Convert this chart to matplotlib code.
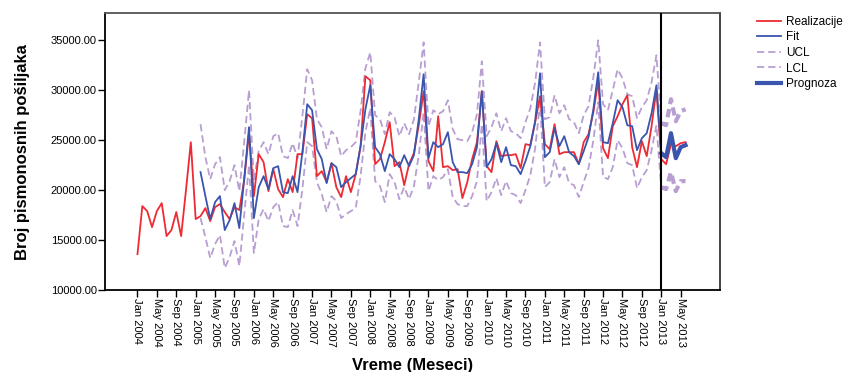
import matplotlib
matplotlib.use('Agg')
import matplotlib.pyplot as plt
import numpy as np
import pandas as pd

plt.rcParams['font.family'] = ['Liberation Sans', 'DejaVu Sans']

# month index 0 = Jan 2004
months = pd.date_range('2004-01-01', periods=114, freq='MS')

realizacija = [
    13600, 18400, 17900, 16300, 17900, 18700, 15400, 16000, 17800, 15400, 20000, 24800,
    17100, 17400, 18200, 16900, 18300, 18600, 17800, 17100, 18300, 18000, 21000, 25700,
    19400, 23600, 22800, 19900, 22100, 20100, 19300, 21100, 19800, 23600, 23600, 27600,
    27200, 21400, 21900, 20800, 22700, 20300, 19300, 21400, 19800, 21600, 24400, 31400,
    31000, 22600, 23100, 24800, 26800, 22400, 22800, 20500, 22600, 23700, 26500, 29900,
    22900, 21900, 27400, 22300, 22400, 22000, 22100, 19200, 20800, 23100, 24800, 29900,
    22400, 21800, 24900, 23400, 23500, 23500, 23600, 22200, 24600, 24500, 26800, 29400,
    24600, 24100, 26600, 23600, 23800, 23800, 23800, 22600, 24800, 25600, 27800, 30900,
    24200, 23200, 26400, 27400, 28600, 29500, 24300, 22300, 24900, 23400, 26400, 30100,
    23100, 22600, 24600, 24400, 24700, 24800,
]

# fit starts Feb 2005 (index 13)
fit_start = 13
fit = [
    21800, 19400, 17100, 18800, 19400, 16000, 17000, 18700, 16200, 21100, 26300,
    17200, 20300, 21400, 20100, 22200, 22400, 19800, 19700, 21400, 19800, 23800, 28600,
    28000, 24100, 23100, 20700, 22700, 22300, 20300, 20800, 21200, 21600, 24400, 28100,
    30500, 24300, 23600, 21900, 23600, 23100, 22300, 23500, 22400, 23500, 27100, 31600,
    23200, 24800, 24300, 24600, 25800, 22800, 21800, 21800, 21700, 22600, 24300, 29900,
    22300, 23100, 24700, 22800, 24300, 22500, 22400, 21600, 22900, 24400, 26900, 31700,
    23300, 23800, 26200, 24400, 25400, 23800, 23400, 22600, 23900, 25300, 28100, 31800,
    24800, 24700, 26700, 29000, 28300, 26500, 26400, 24000, 25200, 25700, 27700, 30500,
    23700,
]
ucl = [
    26600, 23300, 21100, 22600, 23300, 20000, 20900, 22500, 19900, 24800, 30000,
    21000, 23900, 24800, 23600, 25400, 25700, 23400, 23200, 24700, 23200, 27400, 32100,
    31000, 27100, 26300, 24100, 25900, 25400, 23400, 24000, 24300, 24800, 27900, 32200,
    33800, 27500, 27100, 25600, 27800, 27300, 25400, 26700, 25600, 27100, 30800, 34800,
    26400, 28000, 27600, 27900, 29000, 26100, 25100, 25000, 24900, 25800, 27600, 32900,
    25400, 26300, 27700, 25900, 27200, 25900, 25700, 25200, 26800, 28200, 30800, 34800,
    27100, 27300, 29500, 27700, 28500, 27100, 26800, 25700, 27500, 28400, 31300, 35000,
    28600, 28000, 30000, 32100, 31200, 29600, 29400, 27200, 28300, 29000, 30800, 33500,
    26700,
]
lcl = [
    17200, 15300, 13200, 14600, 15500, 12200, 13300, 14900, 12400, 17500, 22500,
    13700, 17100, 18100, 16900, 18300, 18800, 16400, 16300, 18000, 16400, 20100, 24800,
    24400, 20800, 19600, 17800, 19400, 18900, 17200, 17600, 17900, 18200, 21400, 25800,
    28200, 20900, 20400, 18800, 21600, 20800, 19100, 20300, 19100, 20400, 23500, 27800,
    19900, 21400, 21000, 21300, 22100, 19300, 18600, 18400, 18400, 19400, 20900, 26600,
    18900, 19800, 21200, 19500, 20900, 19700, 19500, 18700, 20000, 21500, 24200, 28700,
    20300, 20800, 23100, 21300, 22300, 20700, 20500, 19300, 20800, 22200, 25000, 28800,
    21300, 21100, 22300, 25000, 24200, 22700, 22500, 20200, 21300, 22000, 24000, 26500,
    20300,
]

# forecast Jan 2013 - Jun 2013 (index 108)
fc_start = 108
prognoza = [23700, 23300, 25700, 23200, 24300, 24500]
ucl_fc = [26700, 26500, 29100, 26900, 27900, 28100]
lcl_fc = [20300, 20100, 21800, 19900, 20900, 20900]

red = '#ee2a33'
blue = '#3a55ad'
lilac = '#b89fd2'

x_real = np.arange(len(realizacija))
x_fit = np.arange(fit_start, fit_start + len(fit))
x_fc = np.arange(fc_start, fc_start + len(prognoza))

fig = plt.figure(figsize=(8.48, 3.72), dpi=100)
ax = fig.add_axes([0.1238, 0.2204, 0.7252, 0.7438])

ax.plot(x_real, realizacija, color=red, lw=1.3, label='Realizacije', zorder=4)
ax.plot(x_fit, fit, color=blue, lw=1.3, label='Fit', zorder=5)
ax.plot(x_fit, ucl, color=lilac, lw=1.3, ls=(0, (4, 2.2)), label='UCL', zorder=3)
ax.plot(x_fit, lcl, color=lilac, lw=1.3, ls=(0, (4, 2.2)), label='LCL', zorder=3)
ax.plot(x_fc, ucl_fc, color=lilac, lw=3, ls=(0, (2, 1.2)), zorder=3)
ax.plot(x_fc, lcl_fc, color=lilac, lw=3, ls=(0, (2, 1.2)), zorder=3)
ax.plot(x_fc, prognoza, color=blue, lw=3, label='Prognoza', zorder=6)

ax.axvline(fc_start, color='black', lw=1.5, zorder=7)

ax.set_xlim(-6.7, 120.1)
ax.set_ylim(10000, 37700)

tick_idx = np.arange(0, len(months), 4)
ax.set_xticks(tick_idx)
ax.set_xticklabels([months[i].strftime('%b %Y') for i in tick_idx],
                   rotation=270, fontsize=8)
ax.set_yticks(np.arange(10000, 35001, 5000))
ax.set_yticklabels([f'{v:.2f}' for v in np.arange(10000, 35001, 5000)], fontsize=8)
ax.tick_params(axis='both', direction='out', length=5, width=1, pad=1)

for s in ax.spines.values():
    s.set_linewidth(1.3)
ax.spines['top'].set_color('#555555')
ax.spines['right'].set_color('#333333')

ax.set_ylabel('Broj pismonosnih pošiljaka', fontsize=12, fontweight='bold')
ax.yaxis.set_label_coords(-0.122, 0.5)
ax.set_xlabel('Vreme (Meseci)', fontsize=12, fontweight='bold')
ax.xaxis.set_label_coords(0.5, -0.245)

leg = ax.legend(loc='upper left', bbox_to_anchor=(0.887, 0.97),
                bbox_transform=fig.transFigure, frameon=False, fontsize=8.5,
                handlelength=2.0, handletextpad=0.45, labelspacing=0.3,
                borderaxespad=0)

fig.savefig('out.png', dpi=100)
